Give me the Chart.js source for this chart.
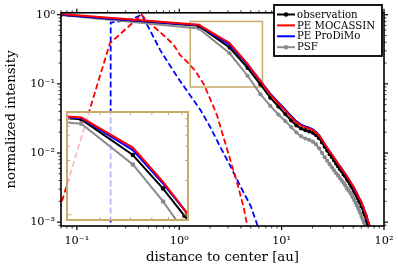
<!DOCTYPE html>
<html>
<head>
<meta charset="utf-8">
<script src="https://cdn.jsdelivr.net/npm/chart.js@4.4.1/dist/chart.umd.min.js"></script>
<style>
  html, body { margin: 0; padding: 0; background: #fff; }
  #wrap { position: relative; width: 398px; height: 268px; }
  #mainChart { position: absolute; left: 0; top: 0; }
  #insetChart { position: absolute; left: 63px; top: 108px; }
</style>
</head>
<body>
<div id="wrap">
  <canvas id="mainChart" width="398" height="268"></canvas>
  <canvas id="insetChart" width="129" height="116"></canvas>
</div>
<script>
// radial profiles, normalized intensity vs distance to center [au]

const distanceAu = [0.07, 1.55, 3.1, 4.65, 6.2, 7.75, 9.3, 10.85, 12.4, 13.95, 15.5, 17.05, 18.6, 20.15, 21.7,
  23.25, 24.8, 26.35, 27.9, 29.45, 31, 32.55, 34.1, 35.65, 37.2, 38.75, 40.3, 41.85, 43.4, 44.95, 46.5, 48.05,
  49.6, 51.15, 52.7, 54.25, 55.8, 57.35, 58.9, 60.45, 62, 63.55, 65.1, 66.65, 68.2, 69.75, 71.3, 72.85, 74.4];

const observation = [1.0, 0.69, 0.335, 0.17, 0.098, 0.063, 0.047, 0.0365, 0.0295, 0.025, 0.0226, 0.0214, 0.0205,
  0.0196, 0.0181, 0.0164, 0.0142, 0.0123, 0.0108, 0.0096, 0.0087, 0.0078, 0.007, 0.0064, 0.0058, 0.0054, 0.0049,
  0.0046, 0.0042, 0.0039, 0.0036, 0.0033, 0.0031, 0.0028, 0.0026, 0.0024, 0.0022, 0.002, 0.0019, 0.0017, 0.0016,
  0.0014, 0.0013, 0.0012, 0.00105, 0.00095, 0.00086, 0.00077, 0.0007];

const peMocassin = [1.02, 0.715, 0.39, 0.195, 0.111, 0.07, 0.052, 0.041, 0.033, 0.0277, 0.0248, 0.0235, 0.0225,
  0.0214, 0.0197, 0.0178, 0.0155, 0.0134, 0.0118, 0.0105, 0.0095, 0.0085, 0.0077, 0.007, 0.0064, 0.0059, 0.0054,
  0.005, 0.0046, 0.0043, 0.0039, 0.0036, 0.0034, 0.0031, 0.0029, 0.0026, 0.0024, 0.0022, 0.0021, 0.0019, 0.0017,
  0.0016, 0.0014, 0.0013, 0.00117, 0.00105, 0.00095, 0.00085, 0.00076];

const peProdimo = [1.0, 0.705, 0.37, 0.188, 0.11, 0.072, 0.054, 0.0425, 0.0342, 0.0287, 0.0257, 0.0243, 0.0232,
  0.022, 0.0202, 0.0181, 0.0157, 0.0135, 0.0119, 0.0106, 0.0095, 0.0085, 0.0077, 0.007, 0.0064, 0.0059, 0.0054,
  0.005, 0.0046, 0.0042, 0.0039, 0.0036, 0.0033, 0.0031, 0.0028, 0.0026, 0.0024, 0.0022, 0.002, 0.0019, 0.0017,
  0.0015, 0.0014, 0.0013, 0.00115, 0.00104, 0.00094, 0.00084, 0.00075];

const psf = [0.99, 0.63, 0.277, 0.131, 0.071, 0.048, 0.036, 0.029, 0.0237, 0.0198, 0.0174, 0.0162, 0.0155, 0.0146,
  0.0133, 0.0117, 0.01, 0.0087, 0.0077, 0.0069, 0.0062, 0.0056, 0.0051, 0.0047, 0.0043, 0.004, 0.0037, 0.0034,
  0.0031, 0.0029, 0.0027, 0.0025, 0.0023, 0.0021, 0.0019, 0.00175, 0.0016, 0.00146, 0.00133, 0.0012, 0.0011,
  0.001, 0.0009, 0.00082, 0.00074, 0.00067, 0.0006, 0.00054, 0.00049];

// unconvolved model profiles (dashed)
const mocassinModelAu = [0.06, 0.21, 0.3, 0.43, 0.48, 0.65, 0.88, 1.02, 1.19, 1.43, 1.73, 2.01, 2.34, 2.72, 3.16,
  3.68, 4.27, 4.61, 5.0];
const mocassinModel = [0.00085, 0.385, 0.62, 1.0, 0.82, 0.56, 0.37, 0.26, 0.21, 0.155, 0.1, 0.06, 0.035, 0.0165,
  0.0078, 0.0037, 0.0016, 0.0009, 0.0005];

const prodimoModelAu = [0.213, 0.214, 0.33, 0.43, 0.52, 0.65, 0.82, 1.02, 1.28, 1.61, 2.0, 2.5, 3.2, 4.0, 5.0,
  5.8, 6.5];
const prodimoModel = [1e-6, 0.77, 0.84, 1.0, 0.59, 0.31, 0.18, 0.11, 0.068, 0.042, 0.024, 0.0125, 0.0062, 0.0032,
  0.0017, 0.0009, 0.0005];

// axis ranges
const xRange = [0.07, 100];
const yRange = [0.00088, 1.066];
const zoomXRange = [1.28, 6.5];
const zoomYRange = [0.09, 0.8];
const zoomXTicks = [2, 3, 4, 5, 6];
const zoomYTicks = [0.1, 0.2, 0.3, 0.4, 0.5, 0.6, 0.7];

const legendNames = ['observation', 'PE MOCASSIN', 'PE ProDiMo', 'PSF'];

const FONT = 'DejaVu Serif';
const GOLD = 'rgb(201,170,104)';
const GREY = '#8a8a8a';
const SUP = { '-': '\u207B', '0': '\u2070', '1': '\u00B9', '2': '\u00B2', '3': '\u00B3' };

function toPoints(xs, ys) {
  return xs.map((x, i) => ({ x: x, y: ys[i] }));
}

function powLabel(value) {
  const e = Math.log10(value);
  if (Math.abs(e - Math.round(e)) > 1e-6) return '';
  return '10' + String(Math.round(e)).split('').map(c => SUP[c]).join('');
}

// tick positions m * 10^e inside [lo, hi]
function logTicks(lo, hi) {
  const out = [];
  for (let e = Math.floor(Math.log10(lo)); e <= Math.ceil(Math.log10(hi)); e++) {
    for (let m = 1; m <= 9; m++) {
      const v = m * Math.pow(10, e);
      if (v >= lo * 0.9999 && v <= hi * 1.0001) out.push({ v: v, major: m === 1 });
    }
  }
  return out;
}

function seg(ctx, x1, y1, x2, y2) {
  ctx.beginPath();
  ctx.moveTo(x1, y1);
  ctx.lineTo(x2, y2);
  ctx.stroke();
}

function solidSets(markerRadius) {
  return [
    {
      label: 'PE MOCASSIN', data: toPoints(distanceAu, peMocassin),
      borderColor: '#ff0000', borderWidth: 2, pointRadius: 0, order: 0
    },
    {
      label: 'PE ProDiMo', data: toPoints(distanceAu, peProdimo),
      borderColor: '#0000ff', borderWidth: 2, pointRadius: 0, order: 1
    },
    {
      label: 'observation', data: toPoints(distanceAu, observation),
      borderColor: '#000000', borderWidth: 2, pointRadius: markerRadius,
      pointBackgroundColor: '#000000', pointBorderWidth: 0, order: 2
    },
    {
      label: 'PSF', data: toPoints(distanceAu, psf),
      borderColor: GREY, borderWidth: 2, pointRadius: markerRadius,
      pointBackgroundColor: GREY, pointBorderWidth: 0, order: 3
    }
  ];
}

// frame, outward ticks, zoom box and legend for the main axes
const mainDecor = {
  id: 'mainDecor',
  beforeDatasetsDraw(chart) {
    const { ctx, scales: { x, y } } = chart;
    const l = x.getPixelForValue(zoomXRange[0]);
    const r = x.getPixelForValue(zoomXRange[1]);
    const t = y.getPixelForValue(zoomYRange[1]);
    const b = y.getPixelForValue(zoomYRange[0]);
    ctx.save();
    ctx.strokeStyle = GOLD;
    ctx.lineWidth = 1.5;
    ctx.strokeRect(l, t, r - l, b - t);
    ctx.restore();
  },
  afterDraw(chart) {
    const { ctx, chartArea: a, scales: { x, y } } = chart;
    ctx.save();
    ctx.strokeStyle = '#000';
    logTicks(xRange[0], xRange[1]).forEach(tk => {
      const px = x.getPixelForValue(tk.v);
      const len = tk.major ? 4 : 2.5;
      ctx.lineWidth = tk.major ? 1.2 : 0.8;
      seg(ctx, px, a.bottom, px, a.bottom + len);
      seg(ctx, px, a.top, px, a.top - len);
    });
    logTicks(yRange[0], yRange[1]).forEach(tk => {
      const py = y.getPixelForValue(tk.v);
      const len = tk.major ? 4 : 2.5;
      ctx.lineWidth = tk.major ? 1.2 : 0.8;
      seg(ctx, a.left, py, a.left - len, py);
      seg(ctx, a.right, py, a.right + len, py);
    });
    ctx.lineWidth = 1.6;
    ctx.strokeRect(a.left, a.top, a.right - a.left, a.bottom - a.top);

    // legend
    const bx = 274, by = 5, bw = 108, bh = 51;
    ctx.fillStyle = '#fff';
    ctx.fillRect(bx, by, bw, bh);
    ctx.lineWidth = 1.8;
    ctx.strokeStyle = '#000';
    ctx.strokeRect(bx, by, bw, bh);
    ctx.font = '10.2px "' + FONT + '"';
    ctx.textBaseline = 'middle';
    ctx.textAlign = 'left';
    legendNames.forEach((name, i) => {
      const ds = chart.data.datasets.find(d => d.label === name);
      const ry = by + 9.5 + i * 10.9;
      ctx.strokeStyle = ds.borderColor;
      ctx.lineWidth = 2;
      seg(ctx, 277, ry, 295, ry);
      if (ds.pointRadius > 0) {
        ctx.fillStyle = ds.pointBackgroundColor;
        ctx.beginPath();
        ctx.arc(286, ry, 2.2, 0, Math.PI * 2);
        ctx.fill();
      }
      ctx.fillStyle = '#000';
      ctx.fillText(name, 297, ry + 0.5);
    });
    ctx.restore();
  }
};

new Chart(document.getElementById('mainChart'), {
  type: 'line',
  data: {
    datasets: solidSets(2.1).concat([
      {
        label: 'MOCASSIN model', data: toPoints(mocassinModelAu, mocassinModel),
        borderColor: '#ff0000', borderWidth: 1.8, borderDash: [6, 3], pointRadius: 0, order: 4
      },
      {
        label: 'ProDiMo model', data: toPoints(prodimoModelAu, prodimoModel),
        borderColor: '#0000ff', borderWidth: 1.8, borderDash: [6, 3], pointRadius: 0, order: 5
      }
    ])
  },
  options: {
    responsive: false,
    animation: false,
    layout: { padding: { left: 0, right: 14, top: 5, bottom: 0 } },
    elements: { line: { tension: 0 } },
    plugins: { legend: { display: false }, tooltip: { enabled: false } },
    scales: {
      x: {
        type: 'logarithmic', min: xRange[0], max: xRange[1],
        // invisible tick marks only push the labels down; real ticks are drawn by mainDecor
        grid: { display: true, drawOnChartArea: false, drawTicks: true, tickLength: 6, tickColor: 'rgba(0,0,0,0)' },
        border: { display: false },
        ticks: {
          autoSkip: false, maxRotation: 0, padding: 2, color: '#000',
          font: { family: FONT, size: 11.3 }, callback: powLabel
        },
        title: {
          display: true, text: 'distance to center [au]', color: '#000',
          font: { family: FONT, size: 13.3 }, padding: { top: 0, bottom: 2 }
        },
        afterFit: s => { s.height = 42; }
      },
      y: {
        type: 'logarithmic', min: yRange[0], max: yRange[1],
        grid: { display: false, drawTicks: false },
        border: { display: false },
        ticks: {
          autoSkip: false, padding: 6, color: '#000',
          font: { family: FONT, size: 11.3 }, callback: powLabel
        },
        title: {
          display: true, text: 'normalized intensity', color: '#000',
          font: { family: FONT, size: 13.3 }, padding: { top: 4, bottom: 0 }
        },
        afterFit: s => { s.width = 61; }
      }
    }
  },
  plugins: [mainDecor]
});

// inset: zoom of the gold box
const insetDecor = {
  id: 'insetDecor',
  beforeDraw(chart) {
    const { ctx, chartArea: a } = chart;
    ctx.save();
    ctx.fillStyle = 'rgba(255,255,255,0.72)';
    ctx.fillRect(a.left, a.top, a.right - a.left, a.bottom - a.top);
    ctx.restore();
  },
  afterDraw(chart) {
    const { ctx, chartArea: a, scales: { x, y } } = chart;
    ctx.save();
    ctx.strokeStyle = GOLD;
    ctx.lineWidth = 1;
    zoomXTicks.forEach(v => {
      const px = x.getPixelForValue(v);
      seg(ctx, px, a.bottom, px, a.bottom - 3);
      seg(ctx, px, a.top, px, a.top + 3);
    });
    zoomYTicks.forEach(v => {
      const py = y.getPixelForValue(v);
      const len = v === 0.1 ? 4.5 : 3;
      seg(ctx, a.left, py, a.left + len, py);
      seg(ctx, a.right, py, a.right - len, py);
    });
    ctx.lineWidth = 2;
    ctx.strokeRect(a.left, a.top, a.right - a.left, a.bottom - a.top);
    ctx.restore();
  }
};

new Chart(document.getElementById('insetChart'), {
  type: 'line',
  data: { datasets: solidSets(2.3) },
  options: {
    responsive: false,
    animation: false,
    layout: { padding: 2 },
    elements: { line: { tension: 0 } },
    plugins: { legend: { display: false }, tooltip: { enabled: false } },
    scales: {
      x: { type: 'logarithmic', min: zoomXRange[0], max: zoomXRange[1], display: false },
      y: { type: 'logarithmic', min: zoomYRange[0], max: zoomYRange[1], display: false }
    }
  },
  plugins: [insetDecor]
});
</script>
</body>
</html>
